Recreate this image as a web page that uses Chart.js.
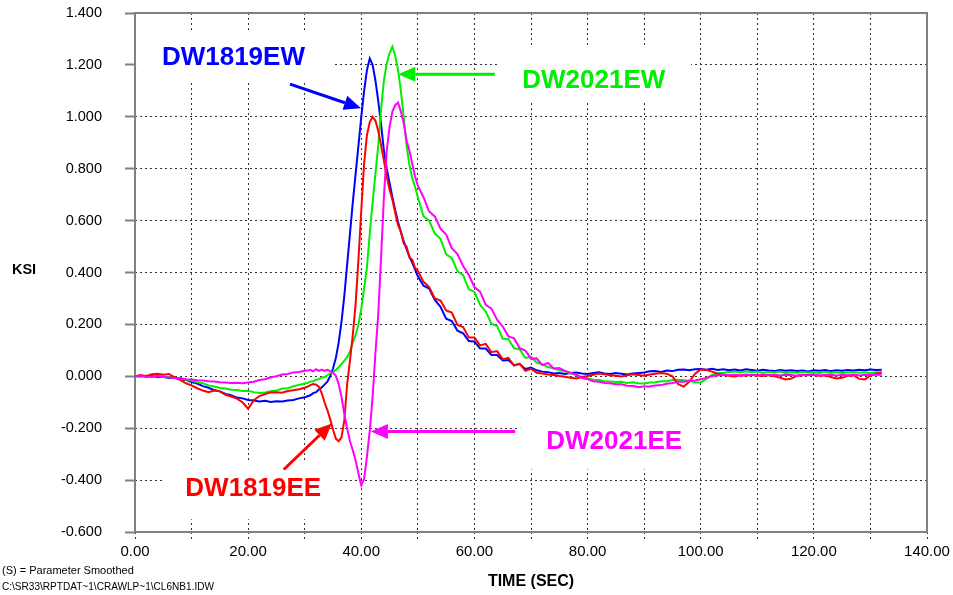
<!DOCTYPE html>
<html>
<head>
<meta charset="utf-8">
<script src="https://cdn.jsdelivr.net/npm/chart.js@4.4.1/dist/chart.umd.min.js"></script>
<style>
  html, body { margin: 0; padding: 0; background: #fff; }
  canvas { display: block; }
</style>
</head>
<body>
<canvas id="c" width="953" height="595"></canvas>
<script>
// Sample times (seconds) shared by all four strain channels
const timeSec = [
  0,1,2,3,4,5,6,7,8,9,10,11,12,13,14,15,16,17,18,19,20,21,22,23,24,25,26,27,28,29,30,
  30.5,31,31.5,32,32.5,33,33.5,34,34.5,35,35.5,36,36.5,37,37.5,38,38.5,39,39.5,40,
  40.5,41,41.5,42,42.5,43,43.5,44,44.5,45,45.5,46,46.5,47,47.5,48,48.5,49,49.5,50,
  51,52,53,54,55,56,57,58,59,60,61,62,63,64,65,66,67,68,69,70,
  71,72,73,74,75,76,77,78,79,80,81,82,83,84,85,86,87,88,89,90,
  91,92,93,94,95,96,97,98,99,100,101,102,103,104,105,106,107,108,109,110,
  111,112,113,114,115,116,117,118,119,120,121,122,123,124,125,126,127,128,129,130,
  131,132
];

// Stress readings in KSI
const dw1819EW = [
  0.000,0.003,-0.002,0.002,-0.004,-0.002,-0.007,-0.006,-0.012,-0.014,-0.022,-0.028,-0.038,-0.044,-0.053,-0.058,
  -0.068,-0.073,-0.082,-0.085,-0.091,-0.093,-0.097,-0.094,-0.099,-0.096,-0.097,-0.093,-0.091,-0.085,-0.081,
  -0.077,-0.073,-0.065,-0.061,-0.051,-0.043,-0.032,-0.021,0.000,0.030,0.070,0.130,0.210,0.310,0.430,0.550,
  0.670,0.780,0.890,1.000,1.100,1.180,1.225,1.200,1.140,1.060,0.970,0.870,0.800,0.745,0.690,0.640,0.595,
  0.555,0.520,0.490,0.462,0.438,0.412,0.385,
  0.349,0.338,0.294,0.268,0.222,0.213,0.176,0.166,0.136,0.134,
  0.107,0.107,0.082,0.082,0.061,0.063,0.043,0.047,0.028,0.034,
  0.023,0.018,0.016,0.011,0.013,0.009,0.013,0.015,0.011,0.009,
  0.013,0.016,0.011,0.009,0.013,0.010,0.007,0.011,0.013,0.015,
  0.019,0.020,0.017,0.022,0.020,0.025,0.026,0.023,0.027,0.028,
  0.025,0.029,0.024,0.027,0.023,0.026,0.022,0.027,0.024,0.021,
  0.025,0.022,0.020,0.024,0.021,0.023,0.020,0.022,0.019,0.023,
  0.021,0.024,0.020,0.023,0.021,0.024,0.022,0.025,0.023,0.026,
  0.024,0.025
];

const dw1819EE = [
  0.000,0.004,0.001,0.008,0.010,0.006,0.009,-0.004,-0.014,-0.027,-0.035,-0.046,-0.055,-0.061,-0.055,-0.058,
  -0.071,-0.078,-0.086,-0.100,-0.125,-0.092,-0.076,-0.068,-0.062,-0.061,-0.063,-0.057,-0.054,-0.050,-0.044,
  -0.040,-0.034,-0.030,-0.032,-0.040,-0.065,-0.100,-0.130,-0.165,-0.205,-0.240,-0.250,-0.235,-0.170,-0.030,
  0.060,0.160,0.280,0.450,0.640,0.820,0.930,0.980,1.000,0.985,0.945,0.890,0.830,0.770,0.720,0.680,0.630,
  0.582,0.560,0.512,0.500,0.458,0.450,0.418,0.406,
  0.364,0.344,0.300,0.292,0.254,0.246,0.198,0.190,0.150,0.150,
  0.119,0.125,0.093,0.097,0.066,0.071,0.041,0.049,0.021,0.029,
  0.014,0.011,0.007,0.005,0.001,-0.002,-0.006,-0.008,-0.003,0.001,
  0.006,0.011,0.008,0.004,0.002,-0.001,0.004,0.008,0.005,0.002,
  0.007,0.010,0.013,0.010,0.000,-0.030,-0.040,-0.020,0.010,0.026,
  0.024,0.018,0.010,0.005,0.002,-0.001,0.004,0.002,0.006,0.003,
  0.001,0.005,0.000,-0.005,-0.012,-0.009,0.002,0.004,0.006,0.005,
  0.002,0.004,-0.003,-0.008,-0.006,0.002,0.004,-0.010,-0.012,0.002,
  0.010,0.015
];

const dw2021EW = [
  0.000,-0.003,0.002,-0.002,0.001,-0.003,-0.004,-0.006,-0.008,-0.013,-0.016,-0.023,-0.027,-0.035,-0.039,-0.045,
  -0.047,-0.052,-0.053,-0.057,-0.056,-0.061,-0.064,-0.062,-0.058,-0.055,-0.047,-0.046,-0.038,-0.033,-0.028,
  -0.026,-0.020,-0.019,-0.013,-0.011,-0.005,-0.003,0.004,0.011,0.018,0.024,0.035,0.047,0.060,0.074,0.095,
  0.130,0.160,0.200,0.260,0.340,0.420,0.550,0.670,0.780,0.890,1.030,1.140,1.205,1.245,1.270,1.235,1.180,
  1.100,1.000,0.890,0.815,0.765,0.730,0.690,
  0.617,0.600,0.550,0.530,0.470,0.455,0.405,0.390,0.335,0.325,
  0.275,0.250,0.203,0.194,0.145,0.144,0.108,0.104,0.071,0.075,
  0.053,0.046,0.036,0.031,0.023,0.019,0.011,0.006,-0.003,-0.007,
  -0.013,-0.014,-0.019,-0.020,-0.022,-0.021,-0.026,-0.023,-0.027,-0.028,
  -0.024,-0.023,-0.019,-0.019,-0.014,-0.013,-0.015,-0.017,-0.023,-0.024,
  -0.010,0.005,0.012,0.014,0.017,0.018,0.015,0.019,0.016,0.018,
  0.014,0.017,0.015,0.018,0.013,0.016,0.014,0.017,0.015,0.016,
  0.013,0.017,0.014,0.016,0.013,0.015,0.017,0.014,0.016,0.013,
  0.016,0.015
];

const dw2021EE = [
  0.000,0.002,-0.001,-0.003,0.001,-0.003,-0.004,-0.007,-0.007,-0.011,-0.012,-0.015,-0.016,-0.019,-0.020,-0.023,
  -0.024,-0.026,-0.025,-0.027,-0.024,-0.021,-0.014,-0.011,-0.004,0.000,0.007,0.009,0.015,0.017,0.021,
  0.022,0.025,0.019,0.027,0.021,0.026,0.021,0.025,0.020,0.014,0.002,-0.030,-0.080,-0.145,-0.200,-0.250,
  -0.285,-0.325,-0.375,-0.420,-0.395,-0.310,-0.210,-0.080,0.090,0.240,0.460,0.690,0.870,0.960,1.020,1.045,
  1.055,1.020,0.975,0.910,0.870,0.820,0.770,0.735,
  0.690,0.635,0.616,0.569,0.546,0.494,0.471,0.425,0.390,0.344,
  0.326,0.275,0.261,0.218,0.192,0.154,0.146,0.108,0.099,0.068,
  0.069,0.043,0.052,0.030,0.032,0.021,0.014,0.006,-0.006,-0.011,
  -0.019,-0.021,-0.026,-0.027,-0.031,-0.031,-0.036,-0.037,-0.041,-0.039,
  -0.039,-0.035,-0.034,-0.029,-0.026,-0.021,-0.021,-0.017,-0.016,-0.011,
  -0.006,0.001,0.003,0.007,0.004,0.006,0.003,0.007,0.005,0.004,
  0.007,0.004,0.006,0.003,0.006,0.005,0.002,0.006,0.004,0.007,
  0.003,0.005,0.006,0.003,0.005,0.004,0.007,0.003,0.006,0.005,
  0.007,0.006
];

const seriesNames  = ['DW1819EW', 'DW1819EE', 'DW2021EW', 'DW2021EE'];
const seriesColors = ['#0000ff', '#ff0000', '#00ee00', '#ff00ff'];
const seriesValues = [dw1819EW, dw1819EE, dw2021EW, dw2021EE];
// later channels are painted over earlier ones
const seriesLayer  = [4, 2, 3, 1];

// Callout labels (text centre, baseline value), white backing box and arrow, all in axis units
const callouts = [
  { name: 'DW1819EW', color: '#0000ff', tx: 17.4, ty: 1.199,
    box: [0.2, 35.0, 1.333, 1.141], arrow: [27.4, 1.126, 39.95, 1.033] },
  { name: 'DW2021EW', color: '#00ee00', tx: 81.1, ty: 1.110,
    box: [64.5, 98.3, 1.276, 1.064], arrow: [63.6, 1.164, 46.55, 1.164] },
  { name: 'DW1819EE', color: '#ff0000', tx: 20.9, ty: -0.463,
    box: [4.9, 36.2, -0.330, -0.551], arrow: [26.3, -0.359, 34.8, -0.182] },
  { name: 'DW2021EE', color: '#ff00ff', tx: 84.7, ty: -0.282,
    box: [68.1, 99.9, -0.136, -0.359], arrow: [67.2, -0.213, 41.7, -0.213] }
];

const footNotes = ['(S) = Parameter Smoothed', 'C:\\SR33\\RPTDAT~1\\CRAWLP~1\\CL6NB1.IDW'];

const FONT = '"Liberation Sans", Arial, Helvetica, sans-serif';

const datasets = seriesNames.map((name, i) => ({
  label: name,
  data: timeSec.map((t, k) => ({ x: t, y: seriesValues[i][k] })),
  borderColor: seriesColors[i],
  backgroundColor: seriesColors[i],
  borderWidth: 2,
  pointRadius: 0,
  tension: 0,
  fill: false,
  order: seriesLayer[i]
}));

function drawArrow(ctx, x1, y1, x2, y2, color) {
  const ang = Math.atan2(y2 - y1, x2 - x1);
  const headLen = 17, headHalf = 7.5;
  const bx = x2 - headLen * Math.cos(ang), by = y2 - headLen * Math.sin(ang);
  ctx.save();
  ctx.strokeStyle = color;
  ctx.fillStyle = color;
  ctx.lineWidth = 3;
  ctx.beginPath();
  ctx.moveTo(x1, y1);
  ctx.lineTo(bx, by);
  ctx.stroke();
  ctx.beginPath();
  ctx.moveTo(x2, y2);
  ctx.lineTo(bx + headHalf * Math.sin(ang), by - headHalf * Math.cos(ang));
  ctx.lineTo(bx - headHalf * Math.sin(ang), by + headHalf * Math.cos(ang));
  ctx.closePath();
  ctx.fill();
  ctx.restore();
}

const decorations = {
  id: 'decorations',
  beforeDatasetsDraw(chart) {
    const { ctx, chartArea: a, scales: { x, y } } = chart;
    ctx.save();
    // white backing behind the callout names
    ctx.fillStyle = '#ffffff';
    callouts.forEach(c => {
      const [t0, t1, v0, v1] = c.box;
      const px0 = x.getPixelForValue(t0), px1 = x.getPixelForValue(t1);
      const py0 = y.getPixelForValue(v0), py1 = y.getPixelForValue(v1);
      ctx.fillRect(px0, py0, px1 - px0, py1 - py0);
    });
    // plot frame
    ctx.strokeStyle = '#808080';
    ctx.lineWidth = 2;
    ctx.strokeRect(a.left, a.top, a.right - a.left, a.bottom - a.top);
    ctx.restore();
  },
  afterDatasetsDraw(chart) {
    const { ctx, scales: { x, y } } = chart;
    ctx.save();
    callouts.forEach(c => {
      const [t1, v1, t2, v2] = c.arrow;
      drawArrow(ctx, x.getPixelForValue(t1), y.getPixelForValue(v1),
                x.getPixelForValue(t2), y.getPixelForValue(v2), c.color);
      ctx.fillStyle = c.color;
      ctx.font = 'bold 26px ' + FONT;
      ctx.textAlign = 'center';
      ctx.textBaseline = 'alphabetic';
      ctx.fillText(c.name, x.getPixelForValue(c.tx), y.getPixelForValue(c.ty));
    });
    // vertical axis caption
    ctx.fillStyle = '#000';
    ctx.font = 'bold 14.5px ' + FONT;
    ctx.textAlign = 'center';
    ctx.textBaseline = 'middle';
    ctx.fillText('KSI', 24, 270);
    // source notes
    ctx.font = '11px ' + FONT;
    ctx.textAlign = 'left';
    ctx.fillText(footNotes[0], 2, 571, 132);
    ctx.fillText(footNotes[1], 2, 587, 212);
    ctx.restore();
  }
};

new Chart(document.getElementById('c'), {
  type: 'line',
  data: { datasets },
  options: {
    responsive: false,
    animation: false,
    devicePixelRatio: 1,
    layout: { padding: { left: 0, right: 26, top: 13, bottom: 0 } },
    plugins: { legend: { display: false }, tooltip: { enabled: false } },
    scales: {
      x: {
        type: 'linear',
        min: 0, max: 140,
        afterFit(s) { s.height = 63; s.paddingLeft = 0; s.paddingRight = 0; },
        ticks: {
          stepSize: 10, autoSkip: false, maxRotation: 0, padding: 3,
          color: '#000', font: { family: FONT, size: 15 },
          callback: v => (Math.round(v) % 20 === 0 ? v.toFixed(2) : '')
        },
        grid: { color: '#333', lineWidth: 1, tickLength: 8, tickColor: '#333', tickBorderDash: [2, 3] },
        border: { display: false, dash: [2, 3] },
        title: {
          display: true, text: 'TIME (SEC)', color: '#000',
          font: { family: FONT, size: 16, weight: 'bold' },
          padding: { top: 0, bottom: 4 }
        }
      },
      y: {
        type: 'linear',
        min: -0.6, max: 1.4,
        afterFit(s) { s.width = 135; s.paddingTop = 0; s.paddingBottom = 0; },
        ticks: {
          stepSize: 0.2, padding: 23,
          color: '#000', font: { family: FONT, size: 14.5 },
          callback: v => (Math.abs(v) < 1e-9 ? 0 : v).toFixed(3)
        },
        grid: { color: '#333', lineWidth: 1, tickLength: 10, tickColor: '#808080', tickWidth: 2, tickBorderDash: [] },
        border: { display: false, dash: [2, 3] }
      }
    }
  },
  plugins: [decorations]
});
</script>
</body>
</html>
